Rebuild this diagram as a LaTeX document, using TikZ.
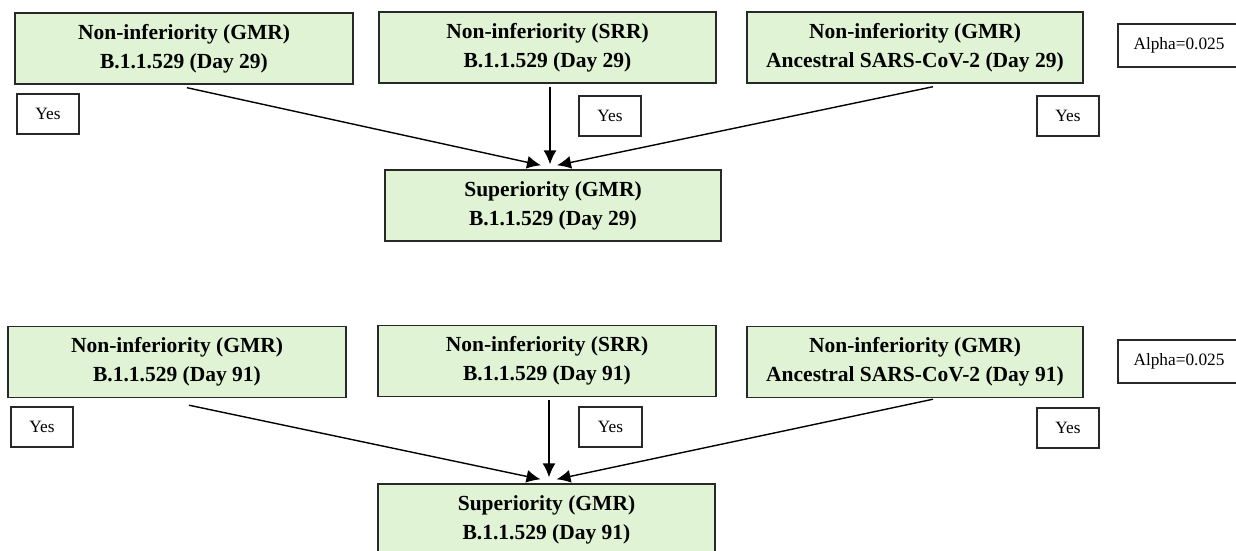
\documentclass[tikz,border=0pt]{standalone}
\usepackage{fontspec}
\setmainfont{Liberation Serif}
\usetikzlibrary{arrows.meta,calc}
\definecolor{boxgreen}{RGB}{224,243,213}
\definecolor{edge}{RGB}{40,40,40}
\tikzset{
  testbox/.style={draw=edge, line width=1.4pt, fill=boxgreen, rectangle, inner sep=0pt,
    align=center, font=\fontsize{21.5}{29}\selectfont\bfseries, minimum height=71pt},
  smallbox/.style={draw=edge, line width=1.3pt, fill=white, rectangle, inner sep=0pt,
    align=center, font=\fontsize{17.3}{20}\selectfont, minimum height=40pt},
  arr/.style={line width=1.4pt, draw=black, -{Latex[length=14pt,width=13pt]}}
}
\begin{document}
\begin{tikzpicture}[x=1pt,y=-1pt]
\useasboundingbox (0,0) rectangle (1236,550);
\clip (0,0) rectangle (1236,550);
% ---- top group ----
\node[testbox, minimum width=338pt] (A1) at (184,48.5) {Non-inferiority (GMR)\\B.1.1.529 (Day 29)};
\node[testbox, minimum width=337pt] (B1) at (547.5,47.5) {Non-inferiority (SRR)\\B.1.1.529 (Day 29)};
\node[testbox, minimum width=336pt] (C1) at (915,47.5) {Non-inferiority (GMR)\\Ancestral SARS-CoV-2 (Day 29)};
\node[testbox, minimum width=336pt] (S1) at (553,205.5) {Superiority (GMR)\\B.1.1.529 (Day 29)};
\node[smallbox, minimum width=62pt] (Y1a) at (48,114) {Yes};
\node[smallbox, minimum width=62pt] (Y1b) at (610,116) {Yes};
\node[smallbox, minimum width=62pt] (Y1c) at (1068,116) {Yes};
\node[smallbox, minimum width=122pt, minimum height=43pt] (AL1) at (1179,45.5) {Alpha=0.025};
\draw[arr] ($(A1.south)+(3,3)$) -- ($(S1.north)+(-12,-4)$);
\draw[arr] ($(B1.south)+(2.5,3)$) -- ($(S1.north)+(-3,-5)$);
\draw[arr] ($(C1.south)+(18,3)$) -- ($(S1.north)+(4,-4)$);
% ---- bottom group ----
\node[testbox, minimum width=338pt] (A2) at (177,362) {Non-inferiority (GMR)\\B.1.1.529 (Day 91)};
\node[testbox, minimum width=338pt] (B2) at (547,361) {Non-inferiority (SRR)\\B.1.1.529 (Day 91)};
\node[testbox, minimum width=336pt] (C2) at (915,362) {Non-inferiority (GMR)\\Ancestral SARS-CoV-2 (Day 91)};
\node[testbox, minimum width=337pt] (S2) at (546.5,519.5) {Superiority (GMR)\\B.1.1.529 (Day 91)};
\node[smallbox, minimum width=62pt] (Y2a) at (42,427) {Yes};
\node[smallbox, minimum width=63pt] (Y2b) at (610.5,427) {Yes};
\node[smallbox, minimum width=62pt] (Y2c) at (1068,428) {Yes};
\node[smallbox, minimum width=122pt, minimum height=43pt] (AL2) at (1179,361.5) {Alpha=0.025};
\draw[arr] ($(A2.south)+(12,7)$) -- ($(S2.north)+(-6,-4)$);
\draw[arr] ($(B2.south)+(2,3)$) -- ($(S2.north)+(2.5,-6)$);
\draw[arr] ($(C2.south)+(18,1)$) -- ($(S2.north)+(10,-4)$);
\end{tikzpicture}
\end{document}
